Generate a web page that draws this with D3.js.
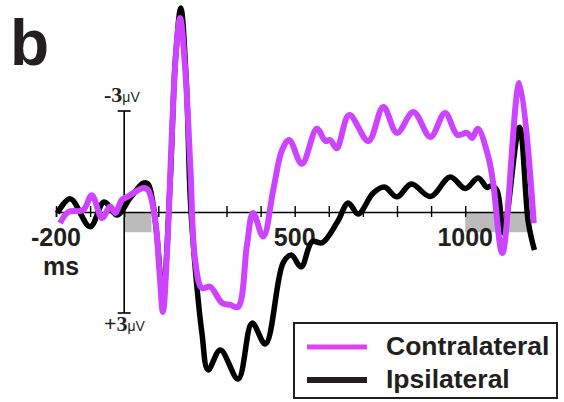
<!DOCTYPE html>
<html><head><meta charset="utf-8">
<script src="https://cdn.jsdelivr.net/npm/d3@7"></script>
<style>
html,body{margin:0;padding:0;background:#fff;}
svg{display:block;}
</style></head>
<body>
<svg id="chart" width="564" height="402"></svg>
<script>
// ---- data (time in ms, amplitude in µV, negative plotted up) ----
const contraTime = [-188,-164,-120,-95,-65,-41,-26,-7,9,56,70,91,103,113.5,126,140,152.5,164,179,194,208,228,252,287,311,334,360,378,408,437,463,484,521,565,590,604,623,660,716,760,800,848,898,941,977,1005,1020,1037,1068,1082,1109,1159,1201];
const contraVal  = [0.33,0,-0.06,-0.50,0.18,-0.16,0.03,-0.36,-0.45,-0.71,-0.65,0.24,1.72,2.97,1.13,-2.35,-4.81,-5.76,-4.22,-1.34,1.43,2.26,2.22,2.70,2.76,2.82,0.98,0.03,0.73,-0.65,-1.84,-2.14,-1.43,-2.47,-2.11,-2.14,-1.89,-2.88,-2.11,-3.12,-2.35,-2.97,-2.23,-2.94,-2.29,-2.35,-2.20,-2.47,-1.63,-0.86,1.22,-3.83,0.33];
const ipsiTime = [-196,-158,-100,-59,-21,18,56,70,85,97,113.5,135,150,166,182,194,208,228,246,282,334,375,414,466,490,519,551,581,625,657,686,730,763,800,842,898,956,1000,1038,1064,1076,1093,1112,1159,1185,1203];
const ipsiVal  = [0.03,-0.39,0.44,-0.30,0.09,-0.42,-0.86,-0.83,-0.21,0.83,2.52,-0.95,-4.5,-6.06,-3.9,-0.36,1.63,3.6,4.69,4.1,4.96,3.3,3.92,1.51,1.28,1.63,0.88,0.91,0.30,-0.27,0.06,-0.56,-0.74,-0.45,-0.83,-0.46,-1.04,-0.70,-1.01,-0.73,-0.77,-0.65,0.62,-2.52,0.30,1.13];
const seriesNames = ["Contralateral","Ipsilateral"];
const seriesColors = ["#cc44ff","#000000"];
const xTickValues = d3.range(-200, 1201, 100);
const xTickLabels = [-200, 500, 1000];
const yTickValues = [-3, 3];
const yTickLabels = ["-3", "+3"];
const shadeWindows = [[0, 80], [1000, 1185]];
const shadeDepth = 0.6;

const svg = d3.select("#chart");
const x = d3.scaleLinear().domain([-200, 1200]).range([56, 533.4]);
const y = d3.scaleLinear().domain([-3, 3]).range([111, 313]);
const ink = "#231f20";

// shaded windows
svg.append("g").selectAll("rect").data(shadeWindows).join("rect")
  .attr("x", d => x(d[0])).attr("width", d => x(d[1]) - x(d[0]))
  .attr("y", y(0)).attr("height", y(shadeDepth) - y(0))
  .attr("fill", "#bbbbbb");

// x axis
const xAxis = d3.axisBottom(x).tickValues(xTickValues).tickSize(5).tickFormat("");
const gx = svg.append("g").attr("transform", `translate(0,${y(0)})`).call(xAxis);
gx.select(".domain").attr("stroke", "#000").attr("stroke-width", 1.6);
gx.selectAll(".tick line").attr("y1", -6).attr("y2", 5).attr("stroke", "#000").attr("stroke-width", 1.4);

// x tick labels
svg.append("g").selectAll("text").data(xTickLabels).join("text")
  .attr("x", d => x(d)).attr("y", 246)
  .attr("text-anchor", "middle")
  .attr("font-family", "Liberation Sans, Arial, sans-serif")
  .attr("font-weight", "bold").attr("font-size", 25).attr("fill", ink)
  .text(d => String(d));
svg.append("text").attr("x", x(-200) + 5).attr("y", 275)
  .attr("text-anchor", "middle")
  .attr("font-family", "Liberation Sans, Arial, sans-serif")
  .attr("font-weight", "bold").attr("font-size", 25).attr("fill", ink)
  .text("ms");

// y axis
const gy = svg.append("g");
gy.append("line").attr("x1", x(0)).attr("x2", x(0)).attr("y1", y(-3)).attr("y2", y(3))
  .attr("stroke", "#000").attr("stroke-width", 1.6);
gy.selectAll("line.cap").data(yTickValues).join("line").attr("class", "cap")
  .attr("x1", x(0) - 6.5).attr("x2", x(0) + 6.5)
  .attr("y1", d => y(d)).attr("y2", d => y(d))
  .attr("stroke", "#000").attr("stroke-width", 1.6);
const ylab = gy.selectAll("text").data(yTickValues).join("text")
  .attr("x", 104).attr("y", d => d < 0 ? y(d) - 9 : y(d) + 18)
  .attr("fill", ink);
ylab.append("tspan")
  .attr("font-family", "Liberation Serif, Times New Roman, serif")
  .attr("font-weight", "bold").attr("font-size", 22)
  .text((d, i) => yTickLabels[i]);
ylab.append("tspan")
  .attr("font-family", "Liberation Sans, Arial, sans-serif")
  .attr("font-size", 14)
  .text("\u03bcV");

// lines
const line = d3.line().x(d => x(d[0])).y(d => y(d[1])).curve(d3.curveCatmullRom.alpha(0.5));
const ipsi = ipsiTime.map((t, i) => [t, ipsiVal[i]]);
const contra = contraTime.map((t, i) => [t, contraVal[i]]);
svg.append("path").datum(ipsi).attr("d", line)
  .attr("fill", "none").attr("stroke", seriesColors[1]).attr("stroke-width", 5.5)
  .attr("stroke-linejoin", "round").attr("stroke-linecap", "butt");
svg.append("path").datum(contra).attr("d", line)
  .attr("fill", "none").attr("stroke", seriesColors[0]).attr("stroke-width", 6)
  .attr("stroke-linejoin", "round").attr("stroke-linecap", "butt");

// panel letter
svg.append("text").attr("x", 10).attr("y", 65)
  .attr("font-family", "Liberation Sans, Arial, sans-serif")
  .attr("font-weight", "bold").attr("font-size", 64).attr("fill", ink)
  .text("b");

// legend
const lg = svg.append("g");
lg.append("rect").attr("x", 294).attr("y", 323).attr("width", 263).attr("height", 75)
  .attr("fill", "#fff").attr("stroke", ink).attr("stroke-width", 2);
const ly = [347, 380];
seriesNames.forEach((name, i) => {
  lg.append("line").attr("x1", 307).attr("x2", 367).attr("y1", ly[i]).attr("y2", ly[i])
    .attr("stroke", seriesColors[i] === "#000000" ? ink : "#dd44ee").attr("stroke-width", i === 0 ? 5 : 6);
  lg.append("text").attr("x", 386).attr("y", ly[i] + 8)
    .attr("font-family", "Liberation Sans, Arial, sans-serif")
    .attr("font-weight", "bold").attr("font-size", 26.5).attr("fill", ink)
    .text(name);
});
</script>
</body></html>
